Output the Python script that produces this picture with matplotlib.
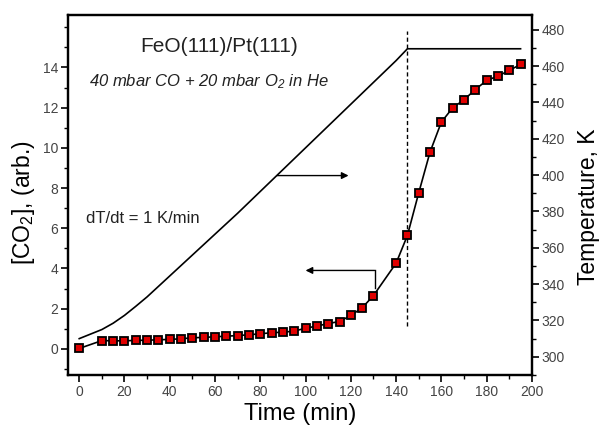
import matplotlib
matplotlib.use("Agg")
import matplotlib.pyplot as plt
from matplotlib.ticker import MultipleLocator

plt.rcParams["font.family"] = ["Liberation Sans", "DejaVu Sans"]
plt.rcParams["mathtext.default"] = "regular"

# CO2 signal (left axis)
time_co2 = [0, 10, 15, 20, 25, 30, 35, 40, 45, 50, 55, 60, 65, 70, 75, 80, 85, 90,
            95, 100, 105, 110, 115, 120, 125, 130, 140, 145, 150, 155, 160, 165,
            170, 175, 180, 185, 190, 195]
co2 = [0.02, 0.41, 0.40, 0.40, 0.42, 0.43, 0.45, 0.47, 0.50, 0.55, 0.57, 0.60,
       0.63, 0.66, 0.70, 0.75, 0.80, 0.83, 0.88, 1.03, 1.13, 1.26, 1.36, 1.66,
       2.04, 2.65, 4.26, 5.64, 7.76, 9.79, 11.28, 11.99, 12.39, 12.90, 13.35,
       13.57, 13.85, 14.15]

# temperature ramp (right axis)
time_temp = [0, 10, 15, 20, 25, 30, 40, 50, 60, 70, 80, 90, 100, 110, 120, 130,
             140, 145, 195]
temp = [310, 315, 318.5, 322.8, 327.8, 333, 344.5, 356, 367.5, 379, 391, 403,
        415, 427, 439, 451, 463, 469.5, 469.5]

fig = plt.figure(figsize=(6.01, 4.33), dpi=100)
ax1 = fig.add_axes([0.113, 0.134, 0.772, 0.831])
ax2 = ax1.twinx()

ax1.plot(time_co2, co2, color="black", lw=1.2, marker="s", ms=5.5,
         mfc="#e00000", mec="black", mew=1.3, zorder=3)
ax2.plot(time_temp, temp, color="black", lw=1.2)

ax1.set_xlim(-5, 200)
ax1.set_ylim(-1.3, 16.6)
ax2.set_ylim(290, 488)

# dashed marker at end of ramp
ax1.plot([145, 145], [1.15, 15.8], color="black", lw=1.0, ls=(0, (3, 2)))

# arrows pointing to the axes
ax1.annotate("", xy=(119, 8.62), xytext=(87.4, 8.62),
             arrowprops=dict(arrowstyle="-|>", color="black", lw=1.0,
                             mutation_scale=10, shrinkA=0, shrinkB=0))
ax1.plot([130.5, 130.5], [3.05, 3.9], color="black", lw=1.0)
ax1.annotate("", xy=(100, 3.9), xytext=(130.5, 3.9),
             arrowprops=dict(arrowstyle="-|>", color="black", lw=1.0,
                             mutation_scale=10, shrinkA=0, shrinkB=0))

ax1.text(62, 15.05, "FeO(111)/Pt(111)", fontsize=15, ha="center", va="center",
         color="#222222")
ax1.text(4.4, 13.3, "40 mbar CO + 20 mbar O$_2$ in He", fontsize=12,
         style="italic", ha="left", va="center", color="#222222")
ax1.text(3, 6.47, "dT/dt = 1 K/min", fontsize=12, ha="left", va="center",
         color="#222222")

ax1.set_xlabel("Time (min)", fontsize=17, labelpad=3)
ax1.set_ylabel("[CO$_2$], (arb.)", fontsize=16.5)
ax1.yaxis.set_label_coords(-0.067, 0.478)
ax2.set_ylabel("Temperature, K", fontsize=16.5)
ax2.yaxis.set_label_coords(1.098, 0.467)

ax1.set_xticks(range(0, 201, 20))
ax1.set_yticks(range(0, 15, 2))
ax2.set_yticks(range(300, 481, 20))
ax1.xaxis.set_minor_locator(MultipleLocator(10))
ax1.yaxis.set_minor_locator(MultipleLocator(1))
ax2.yaxis.set_minor_locator(MultipleLocator(10))

for ax in (ax1, ax2):
    ax.tick_params(which="major", direction="out", length=5, width=1.2,
                   labelsize=10, labelcolor="#444444")
    ax.tick_params(which="minor", direction="out", length=3, width=1.0)
    for sp in ax.spines.values():
        sp.set_linewidth(1.6)
ax1.tick_params(axis="both", pad=2)
ax2.tick_params(axis="y", pad=2)

fig.savefig("out.png", dpi=100)
